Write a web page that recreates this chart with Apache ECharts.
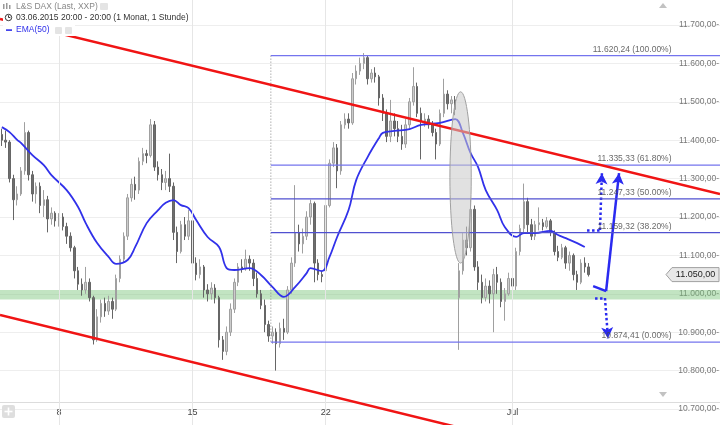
<!DOCTYPE html>
<html>
<head>
<meta charset="utf-8">
<title>L&amp;S DAX</title>
<script src="https://cdn.jsdelivr.net/npm/echarts@6.0.0/dist/echarts.min.js"></script>
<style>
body { margin: 0; background: #fff; }
#daxChart { width: 720px; height: 425px; }
</style>
</head>
<body>
<div id="daxChart"></div>
<script>
// 2-Stunden-Kerzen, 7 pro Handelstag, 03.06.2015 20:00 - 03.07.2015 20:00
var hours = ['08:00', '10:00', '12:00', '14:00', '16:00', '18:00', '20:00']
var days = ['04.06', '05.06', '08.06', '09.06', '10.06', '11.06', '12.06', '15.06', '16.06', '17.06',
  '18.06', '19.06', '22.06', '23.06', '24.06', '25.06', '26.06', '29.06', '30.06', '01.07', '02.07', '03.07']
var dayStart = {'08.06 08:00': '8', '15.06 08:00': '15', '22.06 08:00': '22', '01.07 08:00': 'Jul'}
var dayLines = [15, 50, 85, 134]

// [open, close, low, high]
var candles = [
  [11415, 11400, 11385, 11430], [11400, 11395, 11380, 11425], [11395, 11300, 11290, 11400], [11300, 11245, 11192, 11310],
  [11245, 11260, 11230, 11280], [11260, 11320, 11255, 11330], [11320, 11420, 11310, 11447], [11420, 11310, 11295, 11425],
  [11310, 11260, 11240, 11320], [11260, 11280, 11235, 11290], [11280, 11230, 11210, 11290], [11230, 11245, 11200, 11270],
  [11245, 11195, 11160, 11255], [11195, 11210, 11180, 11225], [11210, 11190, 11175, 11215], [11190, 11200, 11175, 11210],
  [11200, 11175, 11165, 11210], [11175, 11150, 11130, 11185], [11150, 11120, 11110, 11160], [11120, 11060, 11040, 11125],
  [11060, 11025, 11010, 11070], [11025, 11010, 10995, 11040], [11010, 11030, 11000, 11070], [11030, 10990, 10980, 11040],
  [10990, 10880, 10868, 10995], [10880, 10940, 10875, 10960], [10940, 10975, 10925, 10985], [10975, 10955, 10940, 10990],
  [10955, 10980, 10945, 10995], [10980, 10960, 10935, 10990], [10960, 11040, 10955, 11050], [11040, 11090, 11030, 11100],
  [11090, 11150, 11080, 11160], [11150, 11250, 11140, 11260], [11250, 11285, 11240, 11300], [11285, 11270, 11245, 11305],
  [11270, 11345, 11260, 11355], [11345, 11365, 11335, 11380], [11365, 11360, 11340, 11375], [11360, 11440, 11355, 11455],
  [11440, 11330, 11320, 11450], [11330, 11310, 11295, 11345], [11310, 11290, 11270, 11325], [11290, 11300, 11270, 11320],
  [11300, 11280, 11265, 11365], [11280, 11160, 11140, 11290], [11160, 11110, 11080, 11175], [11110, 11180, 11105, 11190],
  [11180, 11150, 11140, 11200], [11150, 11190, 11140, 11218], [11190, 11080, 11060, 11195], [11080, 11050, 11035, 11095],
  [11050, 11070, 11040, 11090], [11070, 11010, 10990, 11075], [11010, 11000, 10980, 11025], [11000, 11015, 10985, 11030],
  [11015, 10990, 10975, 11025], [10990, 10880, 10860, 10995], [10880, 10850, 10828, 10890], [10850, 10900, 10840, 10915],
  [10900, 10960, 10890, 10975], [10960, 11030, 10950, 11040], [11030, 11070, 11020, 11080], [11070, 11065, 11055, 11090],
  [11065, 11090, 11060, 11115], [11090, 11080, 11060, 11100], [11080, 11040, 11020, 11090], [11040, 11000, 10990, 11055],
  [11000, 10970, 10960, 11010], [10970, 10920, 10900, 10985], [10920, 10890, 10875, 10930], [10890, 10900, 10870, 10915],
  [10900, 10870, 10800, 10910], [10870, 10910, 10860, 10925], [10910, 10900, 10880, 10935], [10900, 11010, 10895, 11020],
  [11010, 11080, 11000, 11095], [11080, 11160, 11070, 11283], [11160, 11130, 11110, 11180], [11130, 11150, 11105, 11170],
  [11150, 11200, 11140, 11215], [11200, 11235, 11180, 11245], [11235, 11080, 11030, 11240], [11080, 11050, 11035, 11090],
  [11050, 11045, 11030, 11060], [11060, 11230, 11050, 11240], [11230, 11340, 11225, 11350], [11340, 11380, 11330, 11395],
  [11380, 11320, 11275, 11390], [11320, 11440, 11310, 11450], [11440, 11455, 11430, 11470], [11455, 11445, 11430, 11470],
  [11445, 11560, 11440, 11575], [11560, 11580, 11545, 11595], [11580, 11600, 11570, 11615], [11600, 11615, 11585, 11627],
  [11615, 11560, 11545, 11620], [11560, 11575, 11550, 11585], [11575, 11565, 11550, 11590], [11565, 11510, 11490, 11570],
  [11510, 11470, 11450, 11520], [11470, 11410, 11395, 11480], [11410, 11450, 11395, 11505], [11450, 11430, 11410, 11470],
  [11430, 11410, 11395, 11450], [11410, 11390, 11375, 11440], [11390, 11440, 11380, 11455], [11440, 11500, 11430, 11510],
  [11500, 11540, 11490, 11590], [11540, 11470, 11460, 11550], [11470, 11450, 11350, 11485], [11450, 11455, 11435, 11470],
  [11455, 11440, 11430, 11465], [11440, 11420, 11410, 11450], [11420, 11390, 11350, 11430], [11390, 11470, 11385, 11480],
  [11470, 11520, 11460, 11560], [11520, 11495, 11480, 11530], [11495, 11505, 11470, 11515], [11505, 11480, 11465, 11515],
  [10990, 11060, 10854, 11080], [11060, 11140, 11050, 11160], [11140, 11120, 11100, 11175], [11120, 11220, 11110, 11250],
  [11220, 11070, 11060, 11230], [11070, 11030, 11010, 11085], [11030, 10990, 10975, 11050], [10990, 11020, 10980, 11040],
  [11020, 11000, 10975, 11035], [11000, 11050, 10900, 11065], [11050, 11030, 11000, 11070], [11030, 10980, 10965, 11040],
  [10980, 11000, 10930, 11015], [11000, 11040, 10995, 11055], [11040, 11020, 11000, 11060], [11020, 11110, 11010, 11120],
  [11110, 11170, 11100, 11180], [11170, 11240, 11160, 11287], [11240, 11180, 11160, 11250], [11180, 11150, 11140, 11195],
  [11150, 11180, 11140, 11190], [11180, 11185, 11165, 11225], [11185, 11175, 11165, 11195], [11175, 11190, 11170, 11200],
  [11190, 11160, 11150, 11195], [11160, 11110, 11100, 11165], [11110, 11095, 11085, 11125], [11095, 11120, 11090, 11130],
  [11120, 11080, 11065, 11125], [11080, 11100, 11060, 11110], [11100, 11050, 11035, 11105], [11050, 11030, 11010, 11060],
  [11030, 11080, 11025, 11090], [11080, 11070, 11055, 11095], [11070, 11050, 11045, 11080]
]

var emaIndex = [0, 2, 4, 5, 8, 11, 13, 17, 20, 22, 25, 28, 30, 33, 35, 38, 41, 43, 45, 47, 49, 51, 54, 57, 59, 61,
  65, 68, 71, 74, 77, 80, 81, 84, 86, 88, 91, 93, 96, 99, 100, 103, 107, 110, 115, 119, 121, 123, 125, 127, 130,
  132, 135, 137, 140, 144, 146, 148, 151, 153]
var emaValue = [11434, 11421, 11401, 11393, 11361, 11335, 11309, 11270, 11226, 11184, 11132, 11096, 11078, 11088,
  11122, 11184, 11218, 11237, 11244, 11231, 11223, 11192, 11148, 11122, 11067, 11062, 11067, 11049, 11018, 10992,
  11018, 11054, 11067, 11059, 11096, 11148, 11218, 11296, 11356, 11406, 11419, 11424, 11429, 11440, 11445, 11455,
  11419, 11367, 11330, 11270, 11218, 11174, 11148, 11158, 11158, 11164, 11153, 11145, 11132, 11122]

var upperTrend = [[-0.5, 11716], [188.5, 11260]]
var lowerTrend = [[-0.5, 10945], [188.5, 10485]]
var supportBand = [10985, 11010]

var fibLevels = [11620.24, 11335.33, 11247.33, 11159.32, 10874.41]
var fibNames = ['100.00%', '61.80%', '50.00%', '38.20%', '0.00%']
var fibColors = ['#7474ee', '#7474ee', '#5050d0', '#5050d0', '#7474ee']
var fibStart = 70.6
var fibEnd = 188.5
var fibLabelEnd = 175.9

var arrowSolid = [[155.2, 11020], [158.6, 11007], [162.0, 11314]]
var arrowUp = [[153.6, 11166], [157.0, 11166], [157.5, 11314]]
var arrowDown = [[155.7, 10989], [158.3, 10989], [159.1, 10884]]

var ellipseX = [117.6, 123.2]
var ellipseY = [11080, 11526]
var lastPrice = 11050

var categories = ['03.06 20:00']
days.forEach(function (d) {
  hours.forEach(function (h) { categories.push(d + ' ' + h) })
})
for (var k = 0; categories.length < 189; k++) categories.push('frei' + k)

function fmt(v) {
  var s = v.toFixed(2).split('.')
  return s[0].replace(/\B(?=(\d{3})+(?!\d))/g, '.') + ',' + s[1]
}

function arrowSegments(path, type) {
  var segs = []
  for (var i = 1; i < path.length; i++) {
    segs.push([
      {coord: path[i - 1], symbol: 'none', lineStyle: {color: '#2a2af0', width: 2.5, type: type}},
      {coord: path[i], symbol: i === path.length - 1 ? 'arrow' : 'none'}
    ])
  }
  return segs
}

var emaData = emaIndex.map(function (idx, i) { return [idx, emaValue[i]] })
var arrowLines = arrowSegments(arrowSolid, 'solid').concat(arrowSegments(arrowUp, 'dotted'), arrowSegments(arrowDown, 'dotted'))

// eine Linie je Fibonacci-Niveau
var fibSeries = fibLevels.map(function (lv, i) {
  return {
    name: 'Fib ' + fibNames[i], type: 'line', xAxisIndex: 1, z: 5, symbol: 'none',
    data: [[fibStart, lv], [fibEnd, lv]],
    lineStyle: {color: fibColors[i], width: 1.2}
  }
})
var fibLabelSeries = {
  name: 'Fib-Texte', type: 'scatter', xAxisIndex: 1, z: 8, symbolSize: 1, silent: true,
  itemStyle: {color: 'rgba(0,0,0,0)'},
  data: fibLevels.map(function (lv) { return [fibLabelEnd, lv] }),
  label: {
    show: true, position: 'left', distance: 0, offset: [0, -6], color: '#444', fontSize: 8.5,
    formatter: function (p) { return fmt(fibLevels[p.dataIndex]) + ' (' + fibNames[p.dataIndex] + ')' }
  }
}

var chart = echarts.init(document.getElementById('daxChart'))
var option = {
  animation: false,
  textStyle: {fontFamily: 'Liberation Sans, Arial, sans-serif'},
  grid: {left: 0, right: 0, top: -13.4, bottom: -22.4, outerBoundsMode: 'none'},
  xAxis: [
    {
      type: 'category', data: categories, position: 'bottom', offset: -45.4,
      axisLine: {lineStyle: {color: '#dcdcdc'}},
      axisTick: {show: false},
      axisLabel: {
        interval: function (i, v) { return dayStart[v] !== undefined },
        formatter: function (v) { return dayStart[v] || '' },
        color: '#444', fontSize: 9, margin: 6
      },
      splitLine: {show: false}
    },
    {type: 'value', min: -0.5, max: 188.5, show: false},
    {
      type: 'category', data: categories, position: 'bottom', offset: -22.4,
      axisLine: {show: false}, axisLabel: {show: false},
      axisTick: {
        inside: true, length: 4, alignWithLabel: true,
        interval: function (i, v) { return dayStart[v] !== undefined },
        lineStyle: {color: '#333'}
      }
    }
  ],
  yAxis: {
    type: 'value', position: 'right', min: 10600, max: 11800, interval: 100,
    axisLine: {show: false}, axisTick: {show: false},
    axisLabel: {
      inside: true, margin: 1, color: '#777', fontSize: 8.5,
      formatter: function (v) { return fmt(v) + '-' }
    },
    splitLine: {lineStyle: {color: '#eeeeee'}}
  },
  series: [
    {
      name: 'Raster', type: 'line', xAxisIndex: 1, data: [], z: 1,
      markLine: {
        silent: true, symbol: 'none', label: {show: false},
        lineStyle: {color: '#e6e6e6', width: 1, type: 'solid'},
        data: dayLines.map(function (d) { return {xAxis: d} })
      }
    },
    {
      name: 'EMA(50)', type: 'line', xAxisIndex: 1, data: emaData, smooth: 0.4,
      showSymbol: false, lineStyle: {color: '#3131ea', width: 1.8}, z: 4
    },
    {
      name: 'L&S DAX', type: 'candlestick', data: candles, barWidth: 2, z: 3,
      itemStyle: {color: '#cccccc', color0: '#6e6e6e', borderColor: '#a0a0a0', borderColor0: '#666666', borderWidth: 1},
      markArea: {
        silent: true, itemStyle: {color: 'rgba(120, 196, 120, 0.45)'},
        data: [[{yAxis: supportBand[0]}, {yAxis: supportBand[1]}]]
      }
    },
    {
      name: 'Fib-Anker', type: 'line', xAxisIndex: 1, z: 5, symbol: 'none',
      data: [[fibStart, fibLevels[0]], [fibStart, fibLevels[4]]],
      lineStyle: {color: '#888', width: 1, type: [1, 2]}
    },
    {
      name: 'Trend oben', type: 'line', xAxisIndex: 1, data: upperTrend, z: 6,
      symbol: 'none', lineStyle: {color: '#f01414', width: 2.5}
    },
    {
      name: 'Trend unten', type: 'line', xAxisIndex: 1, data: lowerTrend, z: 6,
      symbol: 'none', lineStyle: {color: '#f01414', width: 2.5}
    },
    {
      name: 'Ziele', type: 'line', xAxisIndex: 1, data: [], z: 7,
      markLine: {
        silent: true, symbol: 'none', symbolSize: [9, 11], label: {show: false},
        itemStyle: {color: '#2a2af0'},
        data: arrowLines
      }
    },
    fibLabelSeries
  ].concat(fibSeries)
}
chart.setOption(option)

// Ellipse und Kursmarke aus Datenkoordinaten
var pLeft = chart.convertToPixel({seriesIndex: 1}, [ellipseX[0], ellipseY[0]])
var pRight = chart.convertToPixel({seriesIndex: 1}, [ellipseX[1], ellipseY[1]])
var tagY = chart.convertToPixel({seriesIndex: 1}, [0, lastPrice])[1]

var graphics = [
  {type: 'ellipse', z: 50,
    shape: {cx: (pLeft[0] + pRight[0]) / 2, cy: (pLeft[1] + pRight[1]) / 2, rx: Math.abs(pRight[0] - pLeft[0]) / 2, ry: Math.abs(pRight[1] - pLeft[1]) / 2},
    style: {fill: 'rgba(200, 200, 200, 0.55)', stroke: '#a0a0a0', lineWidth: 1}},
  // Kopfzeilen
  {type: 'rect', z: 60, shape: {x: 3, y: 0, width: 178, height: 23}, style: {fill: '#fff'}},
  {type: 'rect', z: 60, shape: {x: 3, y: 23, width: 72, height: 13}, style: {fill: '#fff'}},
  {type: 'rect', z: 61, shape: {x: 3, y: 4, width: 1.5, height: 5}, style: {fill: '#999'}},
  {type: 'rect', z: 61, shape: {x: 6, y: 3, width: 1.5, height: 6}, style: {fill: '#999'}},
  {type: 'rect', z: 61, shape: {x: 9, y: 5, width: 1.5, height: 4}, style: {fill: '#999'}},
  {type: 'text', z: 61, x: 16, y: 6.5, style: {text: 'L&S DAX (Last, XXP)', fill: '#888', fontSize: 8.5, fontFamily: 'Liberation Sans', verticalAlign: 'middle'}},
  {type: 'rect', z: 61, shape: {x: 100, y: 3, width: 8, height: 7, r: 1}, style: {fill: '#e4e4e4'}},
  {type: 'circle', z: 61, shape: {cx: 8.5, cy: 17.5, r: 3.2}, style: {fill: 'none', stroke: '#333', lineWidth: 1}},
  {type: 'polyline', z: 61, shape: {points: [[8.5, 15.3], [8.5, 17.5], [10.3, 17.5]]}, style: {stroke: '#333', lineWidth: 1}},
  {type: 'text', z: 61, x: 16, y: 17.5, style: {text: '03.06.2015 20:00 - 20:00 (1 Monat, 1 Stunde)', fill: '#333', fontSize: 8.5, fontFamily: 'Liberation Sans', verticalAlign: 'middle'}},
  {type: 'rect', z: 61, shape: {x: 6, y: 29.3, width: 6, height: 1.6}, style: {fill: '#3131ea'}},
  {type: 'text', z: 61, x: 16, y: 30, style: {text: 'EMA(50)', fill: '#3131ea', fontSize: 8.5, fontFamily: 'Liberation Sans', verticalAlign: 'middle'}},
  {type: 'rect', z: 61, shape: {x: 55, y: 27, width: 7, height: 7, r: 1}, style: {fill: '#e4e4e4'}},
  {type: 'rect', z: 61, shape: {x: 65, y: 27, width: 7, height: 7, r: 1}, style: {fill: '#e4e4e4'}},
  // Scroll-Pfeile und Zoom-Knopf
  {type: 'polygon', z: 61, shape: {points: [[659, 8], [667, 8], [663, 3]]}, style: {fill: '#c2c2c2'}},
  {type: 'polygon', z: 61, shape: {points: [[659, 392], [667, 392], [663, 397]]}, style: {fill: '#c2c2c2'}},
  {type: 'rect', z: 61, shape: {x: 2, y: 405, width: 13, height: 13, r: 2}, style: {fill: '#dedede'}},
  {type: 'rect', z: 62, shape: {x: 7.7, y: 407.5, width: 1.6, height: 8}, style: {fill: '#fff'}},
  {type: 'rect', z: 62, shape: {x: 4.5, y: 410.7, width: 8, height: 1.6}, style: {fill: '#fff'}},
  // aktuelle Kursmarke
  {type: 'polygon', z: 61, shape: {points: [[666, tagY], [672, tagY - 7], [719, tagY - 7], [719, tagY + 7], [672, tagY + 7]]},
    style: {fill: '#e8e8e8', stroke: '#a0a0a0', lineWidth: 1}},
  {type: 'text', z: 62, x: 695.5, y: tagY, style: {text: fmt(lastPrice), fill: '#222', fontSize: 9, fontFamily: 'Liberation Sans', align: 'center', verticalAlign: 'middle'}}
]
chart.setOption({graphic: graphics})
</script>
</body>
</html>
